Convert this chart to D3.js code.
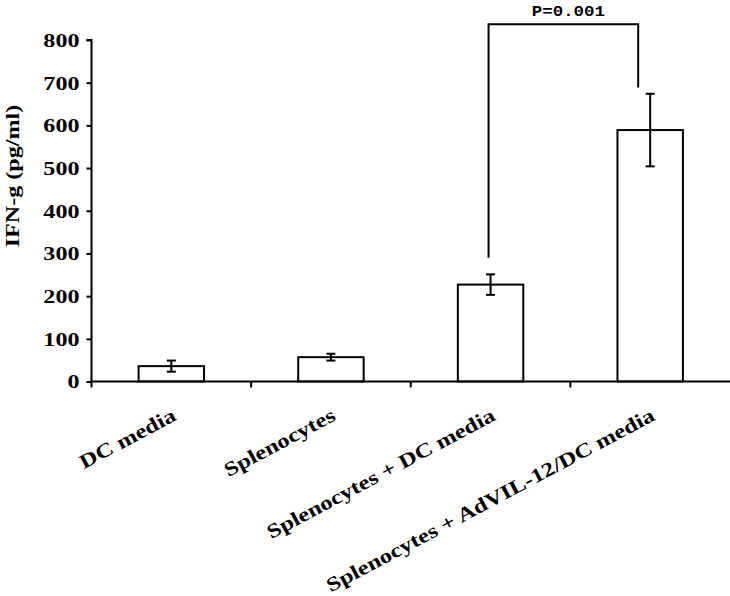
<!DOCTYPE html>
<html>
<head>
<meta charset="utf-8">
<script src="https://cdn.jsdelivr.net/npm/d3@7"></script>
<style>
  html, body { margin: 0; padding: 0; background: #fff; }
  svg { display: block; }
</style>
</head>
<body>
<svg id="chart" width="730" height="596"></svg>
<script>
// ---- data ----
const categories = ["DC media", "Splenocytes", "Splenocytes + DC media", "Splenocytes + AdVIL-12/DC media"];
const means = [36, 57, 227, 589];
const errors = [13, 8, 24, 85];
const yTicks = [0, 100, 200, 300, 400, 500, 600, 700, 800];
const yLabel = "IFN-g (pg/ml)";
const pText = "P=0.001";
const bracketFrom = 2, bracketTo = 3;
const bracketTop = 837, bracketLeftEnd = 290, bracketRightEnd = 689;

// ---- layout ----
const svg = d3.select("#chart");
const x0 = 91.5, x1 = 730, yBase = 381.5, yTop = 40;
const SX = 1.27; // horizontal glyph stretch
const serif = "'Liberation Serif', 'Times New Roman', serif";

const x = d3.scaleBand().domain(categories).range([x0, x1]).paddingInner(0.59).paddingOuter(0.295);
const y = d3.scaleLinear().domain([0, 800]).range([yBase, yTop]);
const step = x.step();

// bars
svg.append("g").selectAll("rect").data(categories).join("rect")
  .attr("x", d => x(d))
  .attr("y", (d, i) => y(means[i]))
  .attr("width", x.bandwidth())
  .attr("height", (d, i) => y(0) - y(means[i]))
  .attr("fill", "#fff").attr("stroke", "#000").attr("stroke-width", 2);

// error bars
const eb = svg.append("g").attr("stroke", "#000").attr("stroke-width", 2);
categories.forEach((c, i) => {
  const cx = x(c) + x.bandwidth() / 2;
  eb.append("line").attr("x1", cx).attr("x2", cx).attr("y1", y(means[i] + errors[i])).attr("y2", y(means[i] - errors[i]));
  [means[i] + errors[i], means[i] - errors[i]].forEach(v => {
    eb.append("line").attr("x1", cx - 4.5).attr("x2", cx + 4.5).attr("y1", y(v)).attr("y2", y(v));
  });
});

// y axis
const yAxis = svg.append("g").attr("transform", `translate(${x0},0)`)
  .call(d3.axisLeft(y).tickValues(yTicks).tickSize(5).tickPadding(0).tickFormat(d3.format("d")));
yAxis.select(".domain").attr("stroke-width", 2).attr("d", `M-5,${yTop}H0V${yBase}`);
yAxis.selectAll(".tick line").attr("stroke-width", 2);
yAxis.selectAll(".tick text")
  .attr("font-family", serif).attr("font-weight", "bold").attr("font-size", 19)
  .attr("fill", "#000")
  .attr("x", -12 / SX).attr("dy", "0.34em")
  .attr("transform", `scale(${SX},1)`);

// x axis line + boundary ticks
const xa = svg.append("g").attr("stroke", "#000").attr("stroke-width", 2);
xa.append("line").attr("x1", x0 - 1).attr("x2", x1).attr("y1", yBase).attr("y2", yBase);
d3.range(categories.length).forEach(i => {
  const tx = x0 + i * step;
  xa.append("line").attr("x1", tx).attr("x2", tx).attr("y1", yBase).attr("y2", yBase + 6);
});

// x labels
const LSX = 1.23;
svg.append("g").selectAll("text").data(categories).join("text")
  .attr("transform", d => `translate(${x(d) + x.bandwidth() / 2 + 6},${yBase + 38}) rotate(-28) scale(${LSX},1)`)
  .attr("text-anchor", "end")
  .attr("font-family", serif).attr("font-weight", "bold").attr("font-size", 20)
  .attr("fill", "#000")
  .text(d => d);

// y label
svg.append("text")
  .attr("transform", `translate(19,176) rotate(-90) scale(${SX},1)`)
  .attr("text-anchor", "middle")
  .attr("font-family", serif).attr("font-weight", "bold").attr("font-size", 19)
  .attr("fill", "#000")
  .text(yLabel);

// significance bracket
const bl = x(categories[bracketFrom]) + x.bandwidth() / 2 - 2;
const br = x(categories[bracketTo]) + x.bandwidth() / 2 - 12;
svg.append("path")
  .attr("d", `M${bl},${y(bracketLeftEnd)}V${y(bracketTop)}H${br}V${y(bracketRightEnd)}`)
  .attr("fill", "none").attr("stroke", "#000").attr("stroke-width", 2);
svg.append("text")
  .attr("transform", `translate(${(bl + br) / 2 + 5},16) scale(1.2,1)`)
  .attr("text-anchor", "middle")
  .attr("font-family", "'Liberation Mono', 'Courier New', monospace").attr("font-weight", "bold").attr("font-size", 14.5)
  .attr("fill", "#000")
  .text(pText);
</script>
</body>
</html>
